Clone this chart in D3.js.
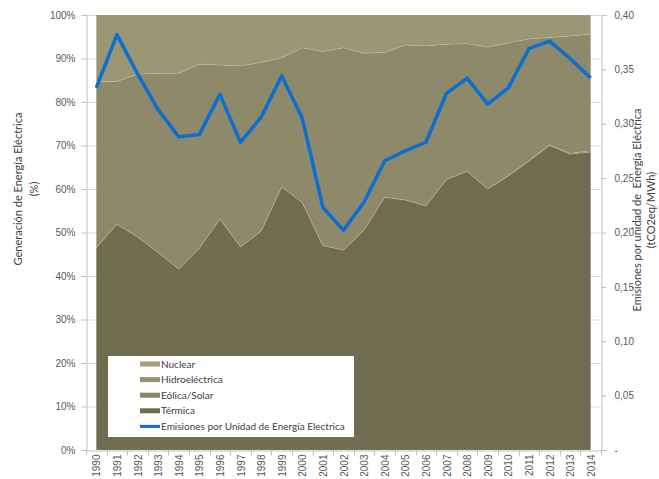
<!DOCTYPE html>
<html><head><meta charset="utf-8">
<script src="https://cdn.jsdelivr.net/npm/d3@7"></script>
<style>
html,body{margin:0;padding:0;background:#fff;}
svg{display:block;font-family:Lato,"Open Sans",sans-serif;}
</style></head>
<body><svg id="c" width="659" height="479"></svg>
<script>
const years = [1990,1991,1992,1993,1994,1995,1996,1997,1998,1999,2000,2001,2002,2003,2004,2005,2006,2007,2008,2009,2010,2011,2012,2013,2014];
const termica  = [46.5,51.9,49.0,45.4,41.6,46.4,53.1,46.7,50.3,60.5,56.9,47.0,46.0,50.6,58.1,57.5,56.1,62.2,64.1,60.0,63.0,66.4,70.0,68.0,68.5];
const eolica   = [0,0,0,0,0,0,0,0,0,0,0,0,0,0,0,0,0,0,0,0,0.1,0.1,0.2,0.2,0.3];
const hidro    = [38.2,32.8,37.4,41.2,45.0,42.3,35.4,41.6,38.8,29.7,35.6,44.6,46.5,40.6,33.3,35.6,36.8,31.1,29.3,32.6,30.5,28.0,24.6,27.0,26.8];
const nuclear  = [15.3,15.3,13.6,13.4,13.4,11.3,11.5,11.7,10.9,9.8,7.5,8.4,7.5,8.8,8.6,6.9,7.1,6.7,6.6,7.4,6.4,5.5,5.2,4.8,4.4];
const emisiones = [0.333,0.382,0.346,0.313,0.288,0.290,0.327,0.283,0.306,0.344,0.305,0.223,0.202,0.228,0.266,0.275,0.283,0.328,0.342,0.318,0.333,0.369,0.376,0.360,0.342];
const leftTicks = [0,10,20,30,40,50,60,70,80,90,100];
const rightTicks = [0,0.05,0.10,0.15,0.20,0.25,0.30,0.35,0.40];
const seriesNames = ["Térmica","Eólica/Solar","Hidroeléctrica","Nuclear"];
const lineName = "Emisiones por Unidad de Energía Electrica";
const colors = {"Térmica":"#6f6c50","Eólica/Solar":"#7d7959","Hidroeléctrica":"#8d896a","Nuclear":"#9b9674"};
const legendColors = {"Nuclear":"#a39e7b","Hidroeléctrica":"#969171","Eólica/Solar":"#8a8566","Térmica":"#6f6c50"};

const svg = d3.select("#c");
const L = 86, R = 601, T = 15, B = 450;

const x = d3.scalePoint().domain(years).range([L, R]).padding(0.5);
const xb = d3.scaleBand().domain(years).range([L, R]);
const y = d3.scaleLinear().domain([0,100]).range([B, T]);
const y2 = d3.scaleLinear().domain([0,0.4]).range([B, T]);

const rows = years.map((yr,i)=>({year:yr,"Térmica":termica[i],"Eólica/Solar":eolica[i],"Hidroeléctrica":hidro[i],"Nuclear":nuclear[i]}));
const stack = d3.stack().keys(seriesNames)(rows);

// gridlines
svg.append("g").selectAll("line").data(leftTicks.filter(d=>d>0)).join("line")
  .attr("x1",L).attr("x2",R).attr("y1",d=>y(d)+0.5).attr("y2",d=>y(d)+0.5)
  .attr("stroke","#d9d9d9").attr("stroke-width",1);

// areas
const area = d3.area().x(d=>x(d.data.year)).y0(d=>y(d[0])).y1(d=>y(d[1]));
svg.append("g").selectAll("path").data(stack).join("path")
  .attr("d",area).attr("fill",d=>colors[d.key])
  .attr("stroke","rgba(255,255,255,0.1)").attr("stroke-width",1);

// axes
const axisColor = "#bfbfbf", textColor = "#595959";
const gl = svg.append("g").attr("transform",`translate(${L+0.5},0)`)
  .call(d3.axisLeft(y).tickValues(leftTicks).tickFormat(d=>d+"%").tickSize(5).tickPadding(6));
const gr = svg.append("g").attr("transform",`translate(${R+0.5},0)`)
  .call(d3.axisRight(y2).tickValues(rightTicks).tickFormat(d=>d===0?"-":d3.format(".2f")(d).replace(".",",")).tickSize(5).tickPadding(8));
const gb = svg.append("g").attr("transform",`translate(0,${B+0.5})`)
  .call(d3.axisBottom(x).tickSize(0).tickPadding(4));
// category boundary tick marks
gb.append("g").selectAll("line").data(years.map(d=>xb(d)).concat([R])).join("line")
  .attr("x1",d=>Math.round(d)+0.5).attr("x2",d=>Math.round(d)+0.5).attr("y1",0).attr("y2",5)
  .attr("stroke",axisColor);
[gl,gr,gb].forEach(g=>{
  g.selectAll(".domain").attr("stroke",axisColor);
  g.selectAll(".tick line").attr("stroke",axisColor);
  g.selectAll(".tick text").attr("fill",textColor).attr("font-size","10px");
});
gb.selectAll(".tick text").attr("y",0).attr("transform","translate(0,4) rotate(-90)")
  .attr("text-anchor","end").attr("dy","0.35em").attr("dx",0);

// line
svg.append("path").datum(emisiones)
  .attr("d",d3.line().x((d,i)=>x(years[i])).y(d=>y2(d)))
  .attr("fill","none").attr("stroke","#0b6fd1").attr("stroke-width",3.5)
  .attr("stroke-linejoin","round");

// axis titles
const lt = svg.append("text").attr("transform","translate(18,189) rotate(-90)")
  .attr("text-anchor","middle").attr("fill","#404040").attr("font-size","11px");
lt.append("tspan").attr("x",0).attr("dy","0.35em").text("Generación de Energía Eléctrica");
lt.append("tspan").attr("x",0).attr("dy","1.5em").text("(%)");
const rt = svg.append("text").attr("transform","translate(637,210) rotate(-90)")
  .attr("text-anchor","middle").attr("fill","#404040").attr("font-size","11px");
rt.append("tspan").attr("x",0).attr("dy","0.35em").text("Emisiones por unidad de  Energía Eléctrica").attr("xml:space","preserve");
rt.append("tspan").attr("x",0).attr("dy","1.3em").text("(tCO2eq/MWh)");

// legend
const lg = svg.append("g");
lg.append("rect").attr("x",108).attr("y",356).attr("width",246).attr("height",81).attr("fill","#fff");
const legItems = ["Nuclear","Hidroeléctrica","Eólica/Solar","Térmica"];
legItems.forEach((k,i)=>{
  const cy = 364 + i*15.6;
  lg.append("rect").attr("x",140).attr("y",cy-2.5).attr("width",20).attr("height",5).attr("fill",legendColors[k]);
  lg.append("text").attr("x",161).attr("y",cy).attr("dy","0.35em").attr("font-size","10px").attr("fill","#404040").text(k);
});
const ly = 364 + 4*15.6;
lg.append("line").attr("x1",140).attr("x2",160).attr("y1",ly).attr("y2",ly).attr("stroke","#0b6fd1").attr("stroke-width",3);
lg.append("text").attr("x",161).attr("y",ly).attr("dy","0.35em").attr("font-size","10px").attr("fill","#404040").text(lineName);
</script></body></html>
